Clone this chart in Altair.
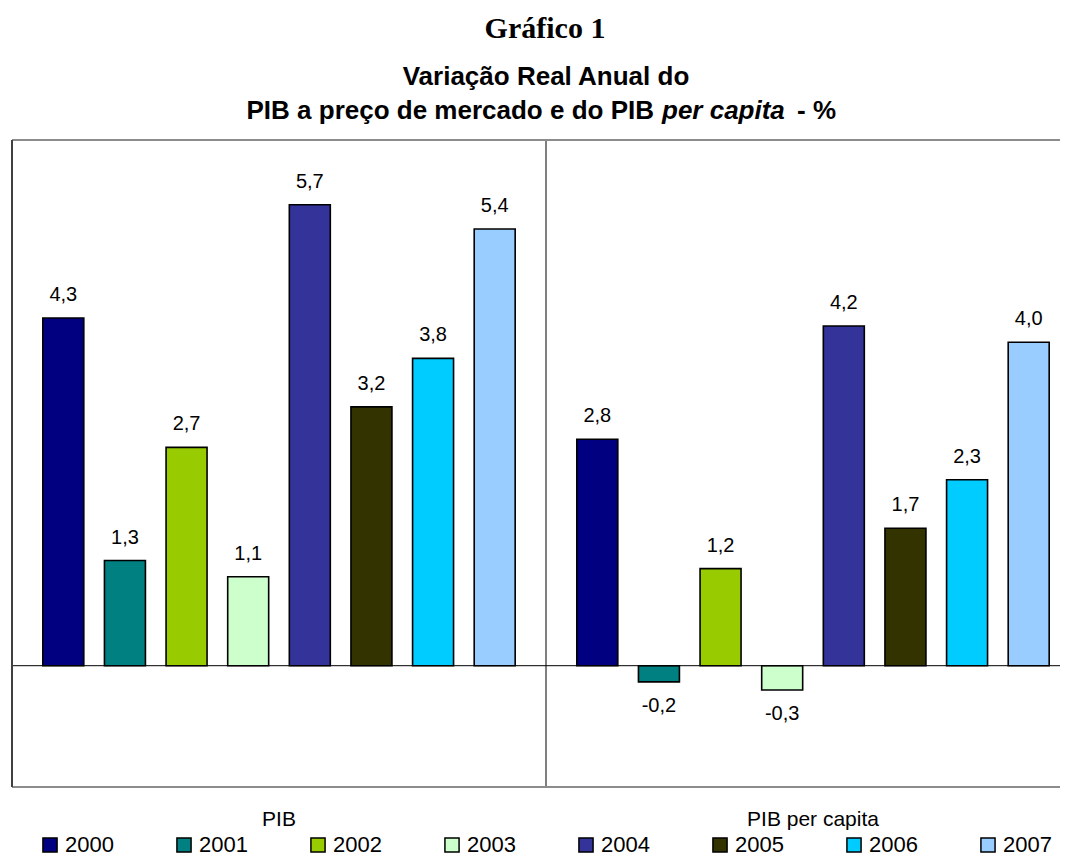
import altair as alt
import pandas as pd

# ---- data ----
groups = ["PIB", "PIB per capita"]
years = ["2000", "2001", "2002", "2003", "2004", "2005", "2006", "2007"]
pib = [4.3, 1.3, 2.7, 1.1, 5.7, 3.2, 3.8, 5.4]
pib_pc = [2.8, -0.2, 1.2, -0.3, 4.2, 1.7, 2.3, 4.0]
colors = ["#000080", "#008080", "#99CC00", "#CCFFCC", "#333399", "#333300", "#00CCFF", "#99CCFF"]

title_text = "Gráfico 1"
sub_line1 = "Variação Real Anual do"
sub_line2a = "PIB a preço de mercado e do PIB"
sub_line2b = "per capita"
sub_line2c = "- %"

rows = []
for g, vals in zip(groups, [pib, pib_pc]):
    for y, v in zip(years, vals):
        rows.append({"grupo": g, "ano": y, "valor": v,
                     "rotulo": f"{v:.1f}".replace(".", ",")})
df = pd.DataFrame(rows)

W, H = 1048, 647
SANS = "Liberation Sans"

x_scale = alt.Scale(domain=groups, range=[0, 1068], paddingInner=0, paddingOuter=0)
x_enc = alt.X("grupo:N", sort=groups, scale=x_scale,
              axis=alt.Axis(title=None, domain=False, ticks=False, labelPadding=21,
                            labelFontSize=21, labelFont=SANS, labelColor="black", labelAngle=0))
xo_enc = alt.XOffset("ano:N", sort=years,
                     scale=alt.Scale(paddingInner=0.335, paddingOuter=0.5))
y_scale = alt.Scale(domain=[-1.5, 6.5], nice=False, zero=False)

base = alt.Chart(df)

bars = base.mark_bar(stroke="black", strokeWidth=1.6).encode(
    x=x_enc,
    xOffset=xo_enc,
    y=alt.Y("valor:Q", scale=y_scale, axis=None),
    y2=alt.datum(0),
    color=alt.Color("ano:N", sort=years,
                    scale=alt.Scale(domain=years, range=colors),
                    legend=alt.Legend(orient="none", direction="horizontal", columns=8,
                                      legendX=27, legendY=694, title=None,
                                      symbolType="square", symbolSize=200,
                                      symbolStrokeColor="black", symbolStrokeWidth=1.5,
                                      labelFont=SANS, labelFontSize=22, labelColor="black",
                                      labelOffset=4, columnPadding=59, padding=0)),
)

lab_pos = base.transform_filter("datum.valor >= 0").mark_text(
    font=SANS, fontSize=20, color="black", baseline="alphabetic", dy=-17
).encode(x=x_enc, xOffset=xo_enc, y=alt.Y("valor:Q", scale=y_scale, axis=None), text="rotulo:N")

lab_neg = base.transform_filter("datum.valor < 0").mark_text(
    font=SANS, fontSize=20, color="black", baseline="alphabetic", dy=30
).encode(x=x_enc, xOffset=xo_enc, y=alt.Y("valor:Q", scale=y_scale, axis=None), text="rotulo:N")

zero_rule = alt.Chart(pd.DataFrame({"z": [0]})).mark_rule(color="black", strokeWidth=1).encode(
    y=alt.Y("z:Q", scale=y_scale, axis=None))

divider = alt.Chart(pd.DataFrame({"grupo": [groups[1]]})).mark_rule(color="black", strokeWidth=1).encode(
    x=alt.X("grupo:N", sort=groups, bandPosition=0, scale=x_scale))

# frame (top, bottom, left; the right edge lies outside the picture in the reference)
frame_top = alt.Chart(pd.DataFrame({"k": [0]})).mark_rule(color="#8c8c8c", strokeWidth=2).encode(
    x=alt.value(0), x2=alt.value(W), y=alt.value(0))
frame_bottom = alt.Chart(pd.DataFrame({"k": [0]})).mark_rule(color="#8c8c8c", strokeWidth=2).encode(
    x=alt.value(0), x2=alt.value(W), y=alt.value(H))
frame_left = alt.Chart(pd.DataFrame({"k": [0]})).mark_rule(color="#404040", strokeWidth=2).encode(
    x=alt.value(0), y=alt.value(0), y2=alt.value(H))


def txt(s, x, y, **kw):
    return alt.Chart(pd.DataFrame({"t": [s]})).mark_text(color="black", baseline="alphabetic", **kw).encode(
        text="t:N", x=alt.value(x), y=alt.value(y))


t_title = txt(title_text, 533, -102, font="Liberation Serif", fontSize=30, fontWeight="bold", align="center")
t_sub1 = txt(sub_line1, 534, -55, font=SANS, fontSize=26, fontWeight="bold", align="center")
t_sub2a = txt(sub_line2a, 642, -21, font=SANS, fontSize=26, fontWeight="bold", align="right")
t_sub2b = txt(sub_line2b, 650, -21, font=SANS, fontSize=26, fontWeight="bold", fontStyle="italic", align="left")
t_sub2c = txt(sub_line2c, 785, -21, font=SANS, fontSize=26, fontWeight="bold", align="left")

chart = alt.layer(
    bars, zero_rule, divider, frame_top, frame_bottom, frame_left, lab_pos, lab_neg,
    t_title, t_sub1, t_sub2a, t_sub2b, t_sub2c
).properties(
    width=W, height=H,
    padding={"left": 4, "top": 132, "right": 0, "bottom": 70},
    autosize=alt.AutoSizeParams(type="none"),
    background="white",
).configure_view(strokeWidth=0)

chart.save("out.html", embed_options={"renderer": "svg", "actions": False})
